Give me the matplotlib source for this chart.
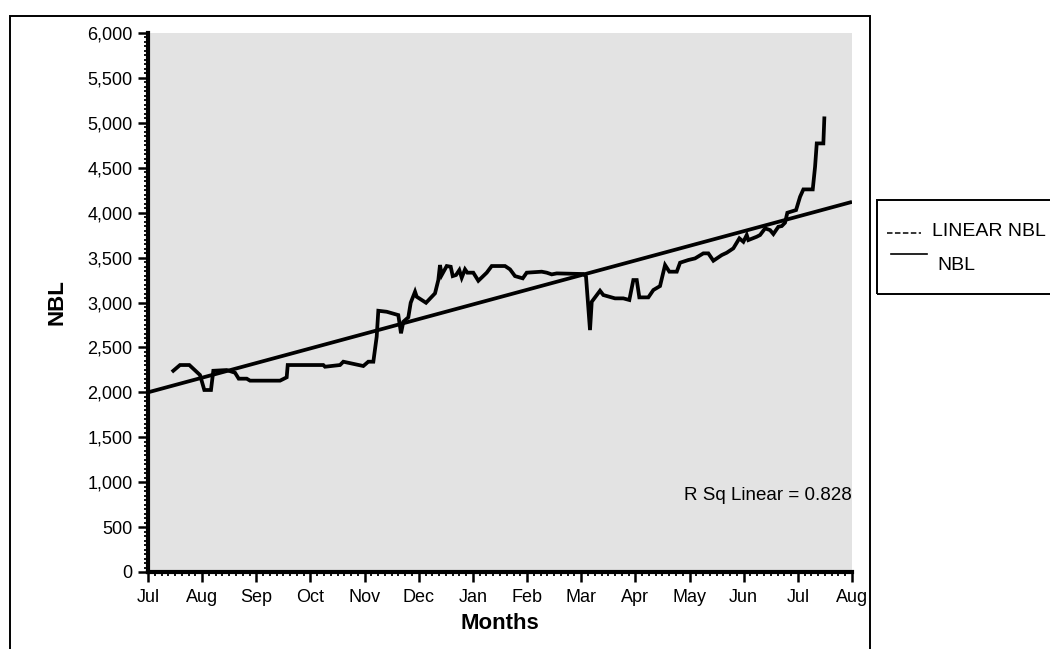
#!/usr/bin/env python3
"""NBL monthly series with linear trend."""

import matplotlib
matplotlib.use("Agg")
import matplotlib.pyplot as plt
from matplotlib.lines import Line2D
from matplotlib.patches import Rectangle
from matplotlib.ticker import FuncFormatter, MultipleLocator

plt.rcParams["font.family"] = ["Liberation Sans", "DejaVu Sans"]

month_labels = ["Jul", "Aug", "Sep", "Oct", "Nov", "Dec", "Jan",
                "Feb", "Mar", "Apr", "May", "Jun", "Jul", "Aug"]

# position in months since start of July, NBL value
nbl_month = [
    0.467, 0.591, 0.763, 0.960, 1.040, 1.163, 1.206, 1.453, 1.607, 1.675,
    1.823, 1.884, 2.438, 2.561, 2.580, 3.237, 3.269, 3.546, 3.607, 3.976,
    4.068, 4.161, 4.223, 4.253, 4.408, 4.622, 4.672, 4.715, 4.807, 4.851,
    4.931, 4.962, 5.134, 5.300, 5.361, 5.392, 5.424, 5.516, 5.590, 5.627,
    5.688, 5.749, 5.793, 5.854, 5.897, 6.007, 6.100, 6.255, 6.347, 6.593,
    6.685, 6.777, 6.920, 6.993, 7.270, 7.363, 7.455, 7.548, 8.039, 8.088,
    8.162, 8.194, 8.347, 8.408, 8.624, 8.777, 8.888, 8.962, 9.025, 9.073,
    9.239, 9.332, 9.455, 9.548, 9.627, 9.764, 9.825, 9.978, 10.102, 10.255,
    10.347, 10.440, 10.595, 10.687, 10.809, 10.920, 10.994, 11.056, 11.086, 11.241,
    11.302, 11.395, 11.487, 11.548, 11.640, 11.703, 11.763, 11.806, 11.967, 12.041,
    12.102, 12.275, 12.318, 12.349, 12.471, 12.489,
]
nbl_value = [
    2240, 2304, 2304, 2193, 2026, 2026, 2240, 2248, 2218, 2152,
    2152, 2130, 2130, 2167, 2304, 2304, 2285, 2304, 2341, 2293,
    2341, 2341, 2619, 2908, 2897, 2860, 2657, 2786, 2835, 2997,
    3120, 3064, 2997, 3102, 3250, 3417, 3306, 3406, 3398, 3294,
    3306, 3361, 3276, 3369, 3332, 3332, 3242, 3332, 3406, 3406,
    3369, 3294, 3269, 3332, 3343, 3332, 3313, 3324, 3317, 3290,
    2693, 3008, 3131, 3083, 3046, 3046, 3028, 3250, 3250, 3057,
    3057, 3139, 3183, 3417, 3343, 3343, 3443, 3473, 3491, 3547,
    3547, 3465, 3528, 3554, 3603, 3714, 3676, 3751, 3695, 3732,
    3751, 3825, 3806, 3762, 3843, 3851, 3888, 3999, 4029, 4177,
    4259, 4259, 4511, 4771, 4771, 5050,
]

# linear fit evaluated at the ends of the axis
trend_month = [0, 13]
trend_value = [2000, 4120]
r_sq = 0.828


def px(x, y):
    """Figure fraction from reference pixel coordinates."""
    return x / 1050, 1 - y / 649


def main() -> int:
    fig = plt.figure(figsize=(10.5, 6.49), dpi=100)
    ax = fig.add_axes([148 / 1050, 1 - 572 / 649, 704 / 1050, 539 / 649])
    ax.set_facecolor("#e3e3e3")

    ax.plot(trend_month, trend_value, color="black", lw=2.7, solid_capstyle="butt")
    ax.plot(nbl_month, nbl_value, color="black", lw=2.7, solid_joinstyle="miter")

    ax.set_xlim(0, 13)
    ax.set_ylim(0, 6000)
    ax.set_xticks(range(len(month_labels)))
    ax.set_xticklabels(month_labels)
    ax.xaxis.set_minor_locator(MultipleLocator(1 / 8))
    ax.yaxis.set_major_locator(MultipleLocator(500))
    ax.yaxis.set_minor_locator(MultipleLocator(50))
    ax.yaxis.set_major_formatter(FuncFormatter(lambda v, _: f"{v:,.0f}"))

    for side in ("top", "right"):
        ax.spines[side].set_visible(False)
    for side in ("left", "bottom"):
        ax.spines[side].set_linewidth(3)
    ax.tick_params(which="major", length=7, width=1.8, labelsize=13)
    ax.tick_params(axis="y", which="major", pad=4)
    ax.tick_params(axis="x", which="major", pad=5)
    ax.tick_params(which="minor", length=3, width=1.3)

    ax.set_xlabel("Months", fontsize=16, fontweight="bold", labelpad=5)
    ax.set_ylabel("NBL", fontsize=16, fontweight="bold", labelpad=14)
    ax.text(12.99, 850, f"R Sq Linear = {r_sq}", ha="right", va="center", fontsize=13.5)

    # outer chart frame
    fig.patches.append(Rectangle(px(10, 700), 860 / 1050, (700 - 16) / 649,
                                 transform=fig.transFigure, fill=False,
                                 edgecolor="black", lw=1.4))

    # legend box, drawn the way the source tool draws it
    fig.patches.append(Rectangle(px(877, 294), 200 / 1050, 94 / 649,
                                 transform=fig.transFigure, fill=False,
                                 edgecolor="black", lw=1.4))
    fig.add_artist(Line2D([887 / 1050, 921 / 1050], [1 - 233 / 649] * 2,
                          transform=fig.transFigure, color="black", lw=1.1,
                          dashes=(3.6, 1.6)))
    fig.text(*px(932, 232), "LINEAR NBL", fontsize=14, va="center", ha="left")
    fig.add_artist(Line2D([891 / 1050, 927 / 1050], [1 - 254 / 649] * 2,
                          transform=fig.transFigure, color="black", lw=1.2))
    fig.text(*px(937, 266), "NBL", fontsize=14, va="center", ha="left")

    fig.savefig("out.png", dpi=100)
    plt.close(fig)
    return 0


if __name__ == "__main__":
    raise SystemExit(main())
